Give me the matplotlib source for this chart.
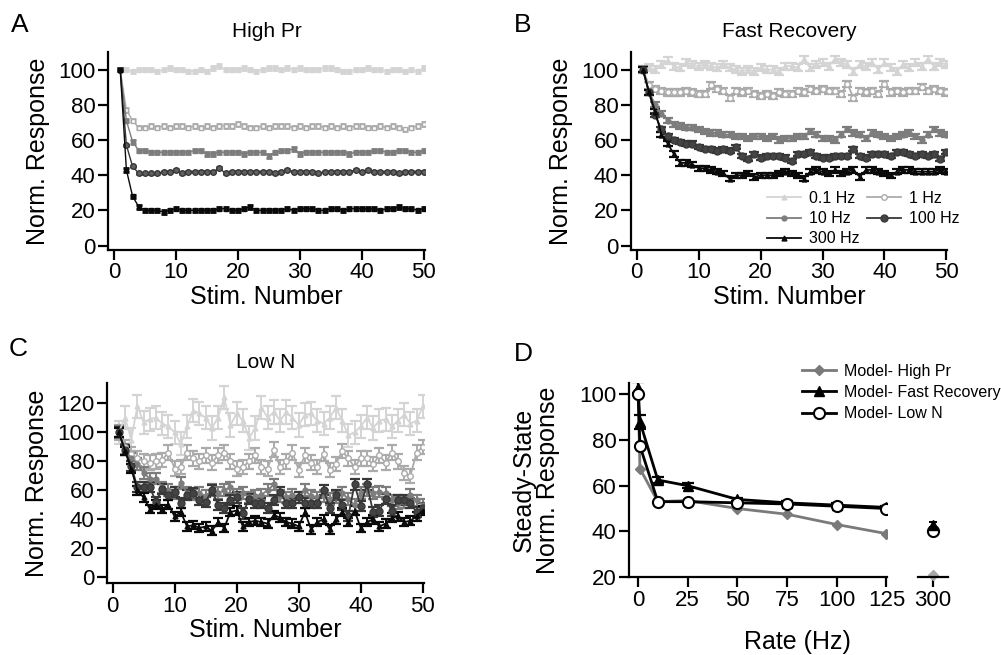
import matplotlib
matplotlib.use("Agg")
import matplotlib.pyplot as plt

plt.rcParams['font.family'] = ['Liberation Sans', 'DejaVu Sans']

W, H = 1001, 655

stim = list(range(1, 51))
freq_labels = ["0.1 Hz", "1 Hz", "10 Hz", "100 Hz", "300 Hz"]

# Panel A -- High Pr
A_01 = [100, 100, 99, 100, 100, 100, 99, 100, 101, 100,
        100, 99, 99, 100, 99, 101, 102, 100, 100, 100,
        101, 100, 99, 100, 101, 101, 100, 101, 100, 101,
        100, 100, 100, 101, 101, 100, 99, 99, 100, 100,
        101, 100, 100, 99, 100, 100, 99, 100, 99, 101]
A_1 = [100, 77, 71, 67, 67, 68, 67, 68, 67, 68,
       68, 67, 68, 67, 68, 67, 68, 68, 68, 69,
       68, 67, 67, 68, 67, 68, 68, 68, 67, 68,
       67, 68, 68, 67, 68, 67, 68, 67, 68, 68,
       67, 67, 68, 67, 68, 67, 66, 67, 68, 69]
A_10 = [100, 71, 59, 54, 54, 53, 53, 53, 53, 53,
        53, 53, 54, 54, 52, 52, 53, 53, 53, 53,
        52, 53, 53, 53, 51, 53, 54, 54, 55, 52,
        53, 53, 53, 53, 53, 53, 53, 52, 53, 53,
        53, 54, 54, 53, 53, 54, 54, 53, 53, 54]
A_100 = [100, 57, 45, 41, 41, 41, 41, 42, 42, 43,
         41, 42, 42, 42, 42, 42, 44, 41, 42, 42,
         42, 42, 42, 42, 42, 41, 42, 43, 42, 42,
         42, 42, 41, 42, 42, 42, 42, 42, 43, 42,
         43, 42, 42, 42, 42, 41, 42, 42, 42, 42]
A_300 = [100, 43, 28, 22, 20, 20, 20, 19, 20, 21,
         20, 20, 20, 20, 20, 20, 21, 21, 20, 20,
         21, 22, 20, 20, 20, 20, 20, 21, 20, 21,
         21, 21, 20, 20, 21, 21, 20, 21, 21, 21,
         21, 21, 20, 21, 21, 22, 21, 21, 20, 21]
A_err = [1.0, 1.0, 1.0, 0.4, 1.0]

# Panel B -- Fast Recovery
B_01 = [100, 101, 100, 103, 105, 102, 101, 104, 103, 102,
        103, 102, 101, 103, 101, 100, 99, 100, 99, 101,
        100, 100, 99, 102, 102, 101, 106, 101, 103, 104,
        102, 106, 104, 103, 99, 103, 102, 104, 100, 104,
        101, 99, 103, 101, 104, 102, 106, 102, 104, 103]
B_1 = [100, 91, 89, 88, 87, 87, 87, 88, 87, 86,
       86, 91, 89, 88, 84, 88, 87, 88, 86, 85,
       86, 85, 87, 86, 86, 88, 87, 89, 88, 89,
       88, 88, 86, 92, 84, 88, 87, 88, 86, 92,
       87, 88, 87, 88, 88, 90, 88, 89, 88, 87]
B_10 = [100, 87, 80, 75, 71, 69, 68, 67, 67, 66,
        65, 64, 64, 63, 63, 62, 62, 61, 62, 62,
        61, 62, 60, 61, 61, 62, 62, 65, 63, 61,
        61, 60, 63, 66, 64, 63, 61, 64, 63, 62,
        61, 62, 63, 64, 62, 60, 63, 66, 64, 63]
B_100 = [100, 87, 74, 66, 62, 60, 59, 58, 58, 56,
         55, 55, 54, 55, 54, 56, 51, 49, 52, 50,
         51, 51, 51, 50, 48, 52, 52, 53, 51, 50,
         50, 51, 51, 51, 55, 51, 50, 52, 52, 52,
         51, 53, 53, 52, 51, 52, 51, 52, 49, 53]
B_300 = [100, 87, 76, 63, 58, 52, 47, 47, 46, 44,
         44, 43, 42, 41, 38, 40, 40, 41, 39, 40,
         40, 40, 41, 42, 41, 40, 38, 42, 43, 42,
         41, 43, 41, 42, 43, 39, 43, 43, 42, 41,
         40, 42, 43, 43, 42, 42, 42, 42, 43, 42]
B_err = [2.0, 1.8, 1.5, 1.2, 1.5]

# Panel C -- Low N
C_01 = [100, 110, 95, 118, 107, 109, 110, 106, 104, 100,
        92, 104, 115, 113, 110, 103, 110, 124, 105, 113,
        108, 96, 103, 117, 110, 114, 108, 114, 110, 105,
        112, 113, 108, 106, 110, 117, 108, 98, 100, 104,
        110, 103, 108, 109, 104, 108, 112, 106, 108, 118]
C_1 = [100, 90, 85, 82, 80, 79, 80, 81, 86, 75,
       76, 86, 82, 80, 84, 79, 84, 86, 80, 75,
       76, 80, 84, 76, 75, 88, 76, 80, 86, 74,
       84, 79, 76, 85, 74, 78, 87, 82, 76, 82,
       82, 78, 84, 79, 86, 80, 72, 70, 86, 90]
C_10 = [100, 88, 82, 78, 72, 68, 68, 62, 60, 58,
        65, 58, 57, 58, 56, 60, 58, 60, 62, 57,
        58, 55, 56, 57, 60, 64, 56, 55, 57, 55,
        60, 56, 55, 56, 54, 55, 58, 54, 50, 58,
        60, 58, 59, 58, 53, 51, 52, 57, 53, 50]
C_100 = [100, 88, 77, 62, 62, 62, 52, 61, 57, 59,
         51, 57, 58, 53, 52, 60, 50, 48, 53, 55,
         44, 54, 51, 51, 48, 53, 59, 51, 51, 55,
         51, 51, 51, 60, 48, 57, 50, 42, 64, 49,
         64, 45, 46, 54, 46, 53, 53, 51, 45, 48]
C_300 = [100, 87, 75, 60, 55, 47, 50, 47, 50, 42,
         45, 35, 36, 34, 35, 32, 38, 34, 45, 46,
         35, 38, 39, 38, 37, 43, 41, 38, 37, 35,
         45, 33, 38, 40, 33, 40, 45, 38, 46, 34,
         38, 40, 35, 37, 41, 42, 38, 39, 42, 46]
C_err = [8.0, 5.0, 4.0, 3.5, 3.0]

# Panel D -- steady state vs rate
rates = [0.1, 1, 10, 25, 50, 75, 100, 125]
D_highpr = [100, 67.5, 53, 53.5, 50, 47.5, 43, 39]
D_fast = [103, 88, 62.5, 60, 54, 52.5, 51.5, 50.5]
D_fast_err = [2.5, 3, 1.5, 1.2, 0.8, 0.8, 0.8, 0.8]
D_lown = [100, 77.5, 53, 53, 52.5, 52, 51, 50]
rate_300 = [300]
D300_highpr = [21]
D300_fast = [43]
D300_lown = [40]

colors = ['#d4d4d4', '#ababab', '#7d7d7d', '#383838', '#0a0a0a']

TICK = 16
LAB = 18


def style_axes(ax):
    for s in ['top', 'right']:
        ax.spines[s].set_visible(False)
    for s in ['left', 'bottom']:
        ax.spines[s].set_linewidth(1.6)
    ax.tick_params(axis='both', labelsize=TICK, width=1.6, length=7, pad=2)


def fig_ax(l, t, r, b):
    return fig.add_axes([l / W, 1 - b / H, (r - l) / W, (b - t) / H])


fig = plt.figure(figsize=(W / 100, H / 100), dpi=100)

# ---------------- A
axA = fig_ax(108, 52, 425, 250)
A_sets = [A_01, A_1, A_10, A_100, A_300]
A_mk = [dict(marker='s', ms=3.5, mfc=colors[0]),
        dict(marker='s', ms=3.5, mfc='white'),
        dict(marker='s', ms=3.5, mfc=colors[2]),
        dict(marker='o', ms=4, mfc='#606060'),
        dict(marker='s', ms=3.5, mfc=colors[4])]
for ys, e, c, mk in zip(A_sets, A_err, colors, A_mk):
    axA.errorbar(stim, ys, yerr=e, color=c, mec=c, lw=1.0, elinewidth=1.5,
                 capsize=2.5, capthick=2.0, **mk)
axA.set_xlim(-0.97, 50.2)
axA.set_ylim(-2.5, 110)
axA.set_xticks([0, 10, 20, 30, 40, 50])
axA.set_yticks([0, 20, 40, 60, 80, 100])
style_axes(axA)
axA.set_title("High Pr", fontsize=15, pad=11)
axA.set_ylabel("Norm. Response", fontsize=LAB, labelpad=6)
axA.set_xlabel("Stim. Number", fontsize=LAB, labelpad=1)

# ---------------- B
axB = fig_ax(631, 52, 947, 250)
B_sets = [B_01, B_1, B_10, B_100, B_300]
BC_mk = [dict(marker='^', ms=3.5, mfc=colors[0]),
         dict(marker='o', ms=4, mfc='white'),
         dict(marker='o', ms=3.5, mfc=colors[2]),
         dict(marker='o', ms=5, mfc='#444444'),
         dict(marker='^', ms=3.5, mfc=colors[4])]
B_handles = []
for ys, e, c, mk in zip(B_sets, B_err, colors, BC_mk):
    h = axB.errorbar(stim, ys, yerr=e, color=c, mec=c, lw=1.3, elinewidth=1.4,
                     capsize=3.5, capthick=1.6, **mk)
    B_handles.append(h[0])
axB.set_xlim(-0.92, 50.1)
axB.set_ylim(-2.5, 110)
axB.set_xticks([0, 10, 20, 30, 40, 50])
axB.set_yticks([0, 20, 40, 60, 80, 100])
style_axes(axB)
axB.set_title("Fast Recovery", fontsize=15, pad=11)
axB.set_ylabel("Norm. Response", fontsize=LAB, labelpad=6)
axB.set_xlabel("Stim. Number", fontsize=LAB, labelpad=1)
# legend fills column-wise; order so rows read 0.1/1, 10/100, 300
order = [0, 2, 4, 1, 3]
axB.legend([B_handles[i] for i in order], [freq_labels[i] for i in order],
           ncol=2, loc='upper left', bbox_to_anchor=(767 / W, 1 - 191 / H),
           bbox_transform=fig.transFigure, frameon=False, fontsize=11.5,
           borderpad=0, borderaxespad=0, handlelength=2.1, handletextpad=0.5,
           columnspacing=0.5, labelspacing=0.32)

# ---------------- C
axC = fig_ax(107, 383, 424, 583)
C_sets = [C_01, C_1, C_10, C_100, C_300]
for ys, e, c, mk in zip(C_sets, C_err, colors, BC_mk):
    axC.errorbar(stim, ys, yerr=e, color=c, mec=c, lw=1.3, elinewidth=1.4,
                 capsize=3.5, capthick=1.6, **mk)
axC.set_xlim(-0.9, 50.2)
axC.set_ylim(-4, 134)
axC.set_xticks([0, 10, 20, 30, 40, 50])
axC.set_yticks([0, 20, 40, 60, 80, 100, 120])
style_axes(axC)
axC.set_title("Low N", fontsize=15, pad=11)
axC.set_ylabel("Norm. Response", fontsize=LAB, labelpad=6)
axC.set_xlabel("Stim. Number", fontsize=LAB, labelpad=1)

# ---------------- D (broken x axis)
axD = fig_ax(629, 383, 887, 577)
axD2 = fig_ax(918, 383, 948, 577)
h1, = axD.plot(rates, D_highpr, color='#7a7a7a', lw=2, marker='D', ms=5,
               mfc='#7a7a7a', mec='#7a7a7a', zorder=2)
h2 = axD.errorbar(rates, D_fast, yerr=D_fast_err, color='black', lw=2, marker='^',
                  ms=7, elinewidth=1.6, capsize=4, capthick=1.6, zorder=3)
h3, = axD.plot(rates, D_lown, color='black', lw=2, marker='o', ms=8, mfc='white',
               mec='black', mew=1.5, zorder=4)
axD2.plot(rate_300, D300_highpr, ls='none', marker='D', ms=5, color='#a8a8a8',
          clip_on=False)
axD2.errorbar(rate_300, D300_fast, yerr=[1], ls='none', marker='^', ms=7,
              color='black', capsize=3, capthick=1.4, clip_on=False)
axD2.plot(rate_300, D300_lown, ls='none', marker='o', ms=8, mfc='white',
          mec='black', mew=1.5, clip_on=False)

axD.set_xlim(-4.5, 125.3)
axD.set_ylim(20, 105)
axD.set_xticks([0, 25, 50, 75, 100, 125])
axD.set_yticks([20, 40, 60, 80, 100])
style_axes(axD)
axD.set_ylabel("Steady-State\nNorm. Response", fontsize=LAB, labelpad=14,
               linespacing=1.0)

axD2.set_xlim(292.5, 307.5)
axD2.set_ylim(20, 105)
axD2.set_xticks([300])
axD2.set_yticks([])
style_axes(axD2)
axD2.spines['left'].set_visible(False)
axD2.patch.set_visible(False)

axD.legend([h1, h2[0], h3], ["Model- High Pr", "Model- Fast Recovery", "Model- Low N"],
           loc='upper left', bbox_to_anchor=(802 / W, 1 - 364 / H),
           bbox_transform=fig.transFigure, frameon=False, fontsize=11.5,
           borderpad=0, borderaxespad=0, handlelength=2.1, handletextpad=0.5,
           labelspacing=0.38)

fig.text(797 / W, 1 - 642 / H, "Rate (Hz)", fontsize=LAB, ha='center', va='center')

# panel letters
for lab, x, y in [("A", 11, 13), ("B", 514, 13), ("C", 9, 337), ("D", 514, 342)]:
    fig.text(x / W, 1 - y / H, lab, fontsize=19, ha='left', va='top')

fig.savefig("out.png", dpi=100)
